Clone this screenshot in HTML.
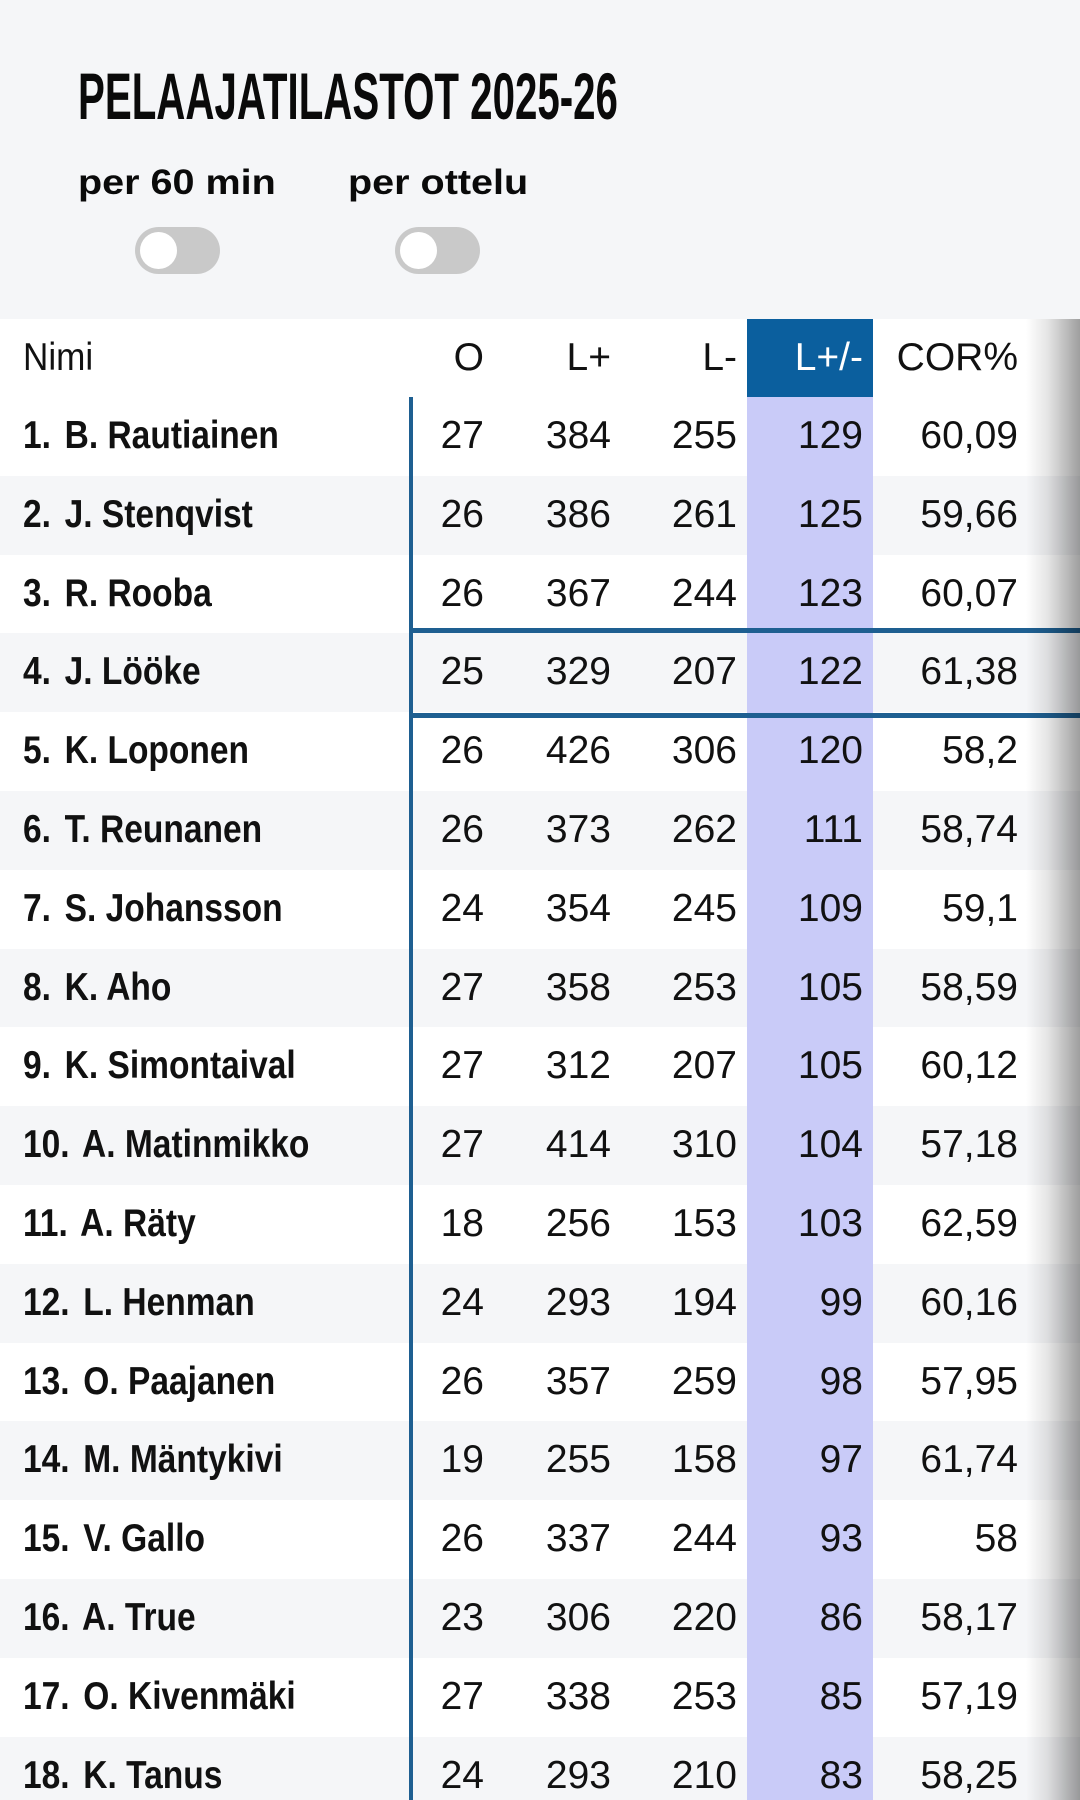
<!DOCTYPE html>
<html><head><meta charset="utf-8">
<style>
*{margin:0;padding:0;box-sizing:border-box}
html,body{width:1080px;height:1800px;overflow:hidden;background:#fff}
body{position:relative;font-family:"Liberation Sans",sans-serif;color:#111}
.top{position:absolute;left:0;top:0;width:1080px;height:319px;background:#f5f6f8}
.title{position:absolute;left:78px;top:63px;font-size:66px;line-height:66px;font-weight:bold;white-space:nowrap;transform:scaleX(.61);transform-origin:0 50%;color:#0a0a0a}
.lbl{position:absolute;top:163px;font-size:35px;line-height:40px;font-weight:bold;white-space:nowrap;color:#0a0a0a;transform:scaleX(1.13);transform-origin:0 50%}
.tog{position:absolute;top:227px;width:85px;height:47px;border-radius:24px;background:#c9c9c9}
.tog i{position:absolute;left:5px;top:5px;width:37px;height:37px;border-radius:50%;background:#fff}
.row{position:absolute;left:0;width:1080px;height:78.8px;line-height:78.8px;font-size:39px;white-space:nowrap}
.g{background:#f5f6f8}
.hd{top:319px;height:78px;line-height:78px;background:#fff}
.nm{position:absolute;left:23px;top:0;font-weight:bold;display:inline-block;transform:scaleX(.86);transform-origin:0 50%}
.nm b{margin-right:5px}
.hd .nm{font-weight:normal;transform:scaleX(.9)}
.c{position:absolute;top:0;text-align:right}
.c1{right:596px}.c2{right:469px}.c3{right:343px}.c4{right:217px}.c5{right:62px}
.lav{position:absolute;left:747px;top:397px;width:126px;height:1403px;background:#c9cbf8}
.hblue{position:absolute;left:747px;top:319px;width:126px;height:78px;background:#0b5f9e}
.vl{position:absolute;left:409px;top:397px;width:4px;height:1403px;background:#1e5f91}
.hl{position:absolute;left:409px;width:671px;height:5px;background:#1e5f91}
.sh{position:absolute;left:1026px;top:319px;width:54px;height:1481px;background:linear-gradient(to right,rgba(0,0,0,0),rgba(0,0,0,.1) 40%,rgba(0,0,0,.38))}
.wt{color:#fff}
</style></head><body>
<div class="top"></div>
<div class="title">PELAAJATILASTOT 2025-26</div>
<div class="lbl" style="left:78px">per 60 min</div>
<div class="lbl" style="left:348px">per ottelu</div>
<div class="tog" style="left:135px"><i></i></div>
<div class="tog" style="left:395px"><i></i></div>

<div class="row hd"><span class="nm">Nimi</span><span class="c c1">O</span><span class="c c2">L+</span><span class="c c3">L-</span></div>
<div class="hblue"></div>
<div class="row hd" style="background:transparent"><span class="c c4 wt">L+/-</span><span class="c c5">COR%</span></div>

<div class="row" style="top:397px"><span class="nm"><b>1.</b> B. Rautiainen</span></div>
<div class="row g" style="top:475.8px"><span class="nm"><b>2.</b> J. Stenqvist</span></div>
<div class="row" style="top:554.6px"><span class="nm"><b>3.</b> R. Rooba</span></div>
<div class="row g" style="top:633.4px"><span class="nm"><b>4.</b> J. Lööke</span></div>
<div class="row" style="top:712.2px"><span class="nm"><b>5.</b> K. Loponen</span></div>
<div class="row g" style="top:791px"><span class="nm"><b>6.</b> T. Reunanen</span></div>
<div class="row" style="top:869.8px"><span class="nm"><b>7.</b> S. Johansson</span></div>
<div class="row g" style="top:948.6px"><span class="nm"><b>8.</b> K. Aho</span></div>
<div class="row" style="top:1027.4px"><span class="nm"><b>9.</b> K. Simontaival</span></div>
<div class="row g" style="top:1106.2px"><span class="nm"><b>10.</b> A. Matinmikko</span></div>
<div class="row" style="top:1185px"><span class="nm"><b>11.</b> A. Räty</span></div>
<div class="row g" style="top:1263.8px"><span class="nm"><b>12.</b> L. Henman</span></div>
<div class="row" style="top:1342.6px"><span class="nm"><b>13.</b> O. Paajanen</span></div>
<div class="row g" style="top:1421.4px"><span class="nm"><b>14.</b> M. Mäntykivi</span></div>
<div class="row" style="top:1500.2px"><span class="nm"><b>15.</b> V. Gallo</span></div>
<div class="row g" style="top:1579px"><span class="nm"><b>16.</b> A. True</span></div>
<div class="row" style="top:1657.8px"><span class="nm"><b>17.</b> O. Kivenmäki</span></div>
<div class="row g" style="top:1736.6px"><span class="nm"><b>18.</b> K. Tanus</span></div>

<div class="lav"></div>
<div class="vl"></div>

<div class="row" style="top:397px"><span class="c c1">27</span><span class="c c2">384</span><span class="c c3">255</span><span class="c c4">129</span><span class="c c5">60,09</span></div>
<div class="row" style="top:475.8px"><span class="c c1">26</span><span class="c c2">386</span><span class="c c3">261</span><span class="c c4">125</span><span class="c c5">59,66</span></div>
<div class="row" style="top:554.6px"><span class="c c1">26</span><span class="c c2">367</span><span class="c c3">244</span><span class="c c4">123</span><span class="c c5">60,07</span></div>
<div class="row" style="top:633.4px"><span class="c c1">25</span><span class="c c2">329</span><span class="c c3">207</span><span class="c c4">122</span><span class="c c5">61,38</span></div>
<div class="row" style="top:712.2px"><span class="c c1">26</span><span class="c c2">426</span><span class="c c3">306</span><span class="c c4">120</span><span class="c c5">58,2</span></div>
<div class="row" style="top:791px"><span class="c c1">26</span><span class="c c2">373</span><span class="c c3">262</span><span class="c c4">111</span><span class="c c5">58,74</span></div>
<div class="row" style="top:869.8px"><span class="c c1">24</span><span class="c c2">354</span><span class="c c3">245</span><span class="c c4">109</span><span class="c c5">59,1</span></div>
<div class="row" style="top:948.6px"><span class="c c1">27</span><span class="c c2">358</span><span class="c c3">253</span><span class="c c4">105</span><span class="c c5">58,59</span></div>
<div class="row" style="top:1027.4px"><span class="c c1">27</span><span class="c c2">312</span><span class="c c3">207</span><span class="c c4">105</span><span class="c c5">60,12</span></div>
<div class="row" style="top:1106.2px"><span class="c c1">27</span><span class="c c2">414</span><span class="c c3">310</span><span class="c c4">104</span><span class="c c5">57,18</span></div>
<div class="row" style="top:1185px"><span class="c c1">18</span><span class="c c2">256</span><span class="c c3">153</span><span class="c c4">103</span><span class="c c5">62,59</span></div>
<div class="row" style="top:1263.8px"><span class="c c1">24</span><span class="c c2">293</span><span class="c c3">194</span><span class="c c4">99</span><span class="c c5">60,16</span></div>
<div class="row" style="top:1342.6px"><span class="c c1">26</span><span class="c c2">357</span><span class="c c3">259</span><span class="c c4">98</span><span class="c c5">57,95</span></div>
<div class="row" style="top:1421.4px"><span class="c c1">19</span><span class="c c2">255</span><span class="c c3">158</span><span class="c c4">97</span><span class="c c5">61,74</span></div>
<div class="row" style="top:1500.2px"><span class="c c1">26</span><span class="c c2">337</span><span class="c c3">244</span><span class="c c4">93</span><span class="c c5">58</span></div>
<div class="row" style="top:1579px"><span class="c c1">23</span><span class="c c2">306</span><span class="c c3">220</span><span class="c c4">86</span><span class="c c5">58,17</span></div>
<div class="row" style="top:1657.8px"><span class="c c1">27</span><span class="c c2">338</span><span class="c c3">253</span><span class="c c4">85</span><span class="c c5">57,19</span></div>
<div class="row" style="top:1736.6px"><span class="c c1">24</span><span class="c c2">293</span><span class="c c3">210</span><span class="c c4">83</span><span class="c c5">58,25</span></div>

<div class="hl" style="top:628px"></div>
<div class="hl" style="top:713px"></div>
<div class="sh"></div>
</body></html>
